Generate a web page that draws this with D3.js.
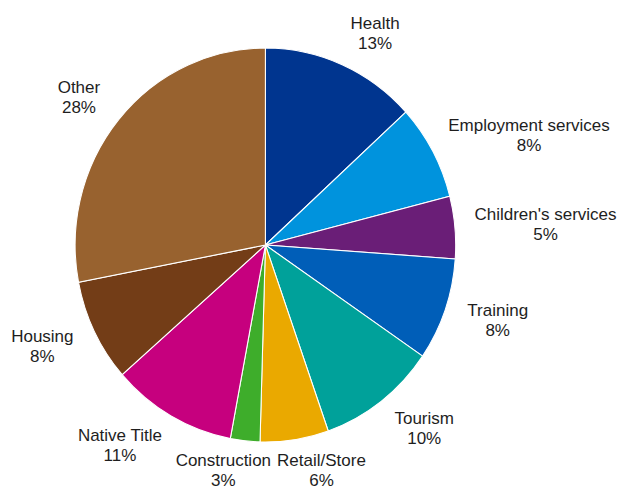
<!DOCTYPE html>
<html>
<head>
<meta charset="utf-8">
<script src="https://cdn.jsdelivr.net/npm/d3@7"></script>
<style>
  html, body { margin: 0; padding: 0; background: #fff; }
  svg { display: block; }
  text { font-family: "Liberation Sans", Arial, sans-serif; font-size: 17px; fill: #1e1e1e; }
</style>
</head>
<body>
<svg id="chart" width="620" height="491"></svg>
<script>
const categories = ["Health", "Employment services", "Children's services", "Training", "Tourism",
                    "Retail/Store", "Construction", "Native Title", "Housing", "Other"];
const shares = [13.2, 7.8, 5.1, 8.4, 10.1, 5.8, 2.5, 10.6, 8.4, 28.0];
const colors = ["#00358f", "#0093dd", "#6a1e77", "#005eb8", "#00a19a",
                "#eaa900", "#3ead2b", "#c6007e", "#733d17", "#98622f"];

const W = 620, H = 491;
const cx = 265.4, cy = 245, ry = 197, rx = 190.3;
const svg = d3.select("#chart");

const pie = d3.pie().sort(null).value(d => d.v);
const data = categories.map((c, i) => ({ c, v: shares[i], col: colors[i] }));
const arcs = pie(data);
const arc = d3.arc().innerRadius(0).outerRadius(ry);

const g = svg.append("g").attr("transform", `translate(${cx},${cy}) scale(${rx / ry},1)`);
g.selectAll("path").data(arcs).enter().append("path")
  .attr("d", arc)
  .attr("fill", d => d.data.col)
  .attr("stroke", "#ffffff")
  .attr("stroke-width", 1.1);

// Labels (Excel-like outside end placement)
const Rl = 217;
const lg = svg.append("g");
const labels = arcs.map(d => {
  const a = (d.startAngle + d.endAngle) / 2;
  const t = lg.append("text").attr("text-anchor", "middle");
  t.append("tspan").text(d.data.c);
  const w = t.node().getComputedTextLength();
  const s = Math.sin(a), c = Math.cos(a);
  const k = Math.max(-1, Math.min(1, 2.5 * s));
  const x = cx + Rl * s + 0.9 * (w / 2) * k;
  const y = cy - Rl * c - 14 * c;
  return { t, d, w, x, y, h: 40 };
});
// simple collision resolution
for (let iter = 0; iter < 20; iter++) {
  for (let i = 0; i < labels.length; i++) {
    for (let j = i + 1; j < labels.length; j++) {
      const A = labels[i], B = labels[j];
      const ox = (A.w + B.w) / 2 + 6 - Math.abs(A.x - B.x);
      const oy = (A.h + B.h) / 2 - Math.abs(A.y - B.y);
      if (ox > 0 && oy > 0) {
        const dir = A.x < B.x ? -1 : 1;
        A.x += dir * ox / 2;
        B.x -= dir * ox / 2;
      }
    }
  }
}
labels.forEach(L => {
  L.x = Math.max(L.w / 2 + 2, Math.min(W - L.w / 2 - 3, L.x));
  let b1 = L.y - 4.5;
  b1 = Math.min(b1, H - 5 - 20);
  L.t.attr("x", L.x).attr("y", b1);
  L.t.select("tspan").attr("x", L.x);
  L.t.append("tspan").attr("x", L.x).attr("dy", 20)
    .text(Math.round(L.d.data.v) + "%");
});
</script>
</body>
</html>
